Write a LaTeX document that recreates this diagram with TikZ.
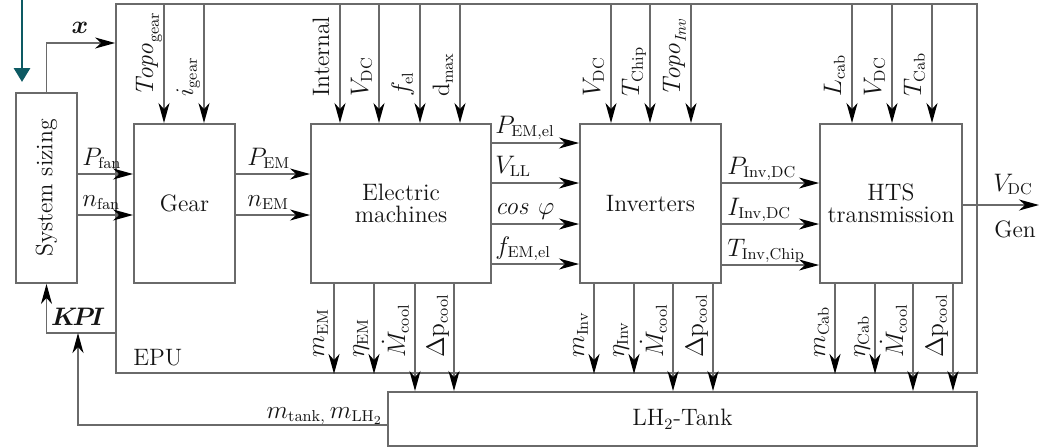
\documentclass[tikz,border=0pt]{standalone}
\usepackage{amsmath}
\usetikzlibrary{arrows.meta,calc}
\definecolor{epuline}{HTML}{6A6A6A}
\definecolor{epuink}{HTML}{141414}
\definecolor{eputeal}{HTML}{0D5A63}

\begin{document}
\begin{tikzpicture}[x=.02cm,y=-.02cm,
  font=\fontsize{13.5}{12.5}\selectfont,text=epuink,
  >={Stealth[length=.4cm,width=.22cm,inset=.12cm,black]},
  sig/.style={->,draw=epuline,line width=1.1pt},
  box/.style={draw=epuline,line width=1.1pt,fill=white,align=center,inner sep=0pt},
  vlab/.style={rotate=90,anchor=base west,inner sep=0pt},
  hlab/.style={anchor=base west,inner sep=0pt},
  cue/.style={-{Triangle[length=.28cm,width=.32cm]},draw=eputeal,line width=1.7pt}]
\path[use as bounding box] (0,0) rectangle (1040,447);

% EPU frame and its blocks
\node[box,minimum width=17.22cm,minimum height=7.38cm] (epu) at (546.5,188.5) {};
\node[anchor=base west,inner sep=0pt] (epulab) at (133,365) {EPU};
\node[box,minimum width=1.22cm,minimum height=3.8cm] (sys) at (46.5,188) {};
\node[rotate=90] (systxt) at (sys) {System sizing};
\node[box,minimum width=2.02cm,minimum height=3.18cm] (gear) at (184.5,203.5) {Gear};
\node[box,minimum width=3.6cm,minimum height=3.18cm] (em) at (401,203.5) {Electric\\machines};
\node[box,minimum width=2.82cm,minimum height=3.18cm] (inv) at (650.5,203.5) {Inverters};
\node[box,minimum width=2.84cm,minimum height=3.18cm] (hts) at (891,203.5) {HTS\\transmission};
\node[box,minimum width=11.78cm,minimum height=1.08cm] (tank) at (682.5,419) {LH$_2$-Tank};

% inputs from the top of the frame
\foreach \x/\t/\b in {164/{$\mathit{Topo}_{\mathrm{gear}}$}/gear,204/{$i_{\mathrm{gear}}$}/gear,
    340/{Internal}/em,379/{$V_{\mathrm{DC}}$}/em,420/{$f_{\mathrm{el}}$}/em,460/{d$_{\mathrm{max}}$}/em,
    611/{$V_{\mathrm{DC}}$}/inv,650/{$T_{\mathrm{Chip}}$}/inv,691/{$\mathit{Topo}_{\mathit{Inv}}$}/inv,
    852/{$L_{\mathrm{cab}}$}/hts,892/{$V_{\mathrm{DC}}$}/hts,932/{$T_{\mathrm{Cab}}$}/hts}
  {\draw[sig] (epu.north -| \x,0) -- (\b.north -| \x,0);
   \node[vlab] (in\x) at (\x-11,97) {\t};}

% signals between the blocks
\foreach \y/\t in {174/{$P_{\mathrm{fan}}$},215/{$n_{\mathrm{fan}}$}}
  {\draw[sig] (sys.east |- 0,\y) -- (gear.west |- 0,\y);
   \node[hlab] (fan\y) at (82,\y-9) {\t};}
\foreach \y/\t in {174/{$P_{\mathrm{EM}}$},215/{$n_{\mathrm{EM}}$}}
  {\draw[sig] (gear.east |- 0,\y) -- (em.west |- 0,\y);
   \node[hlab] (gr\y) at (247,\y-9) {\t};}
\foreach \y/\t in {143/{$P_{\mathrm{EM,el}}$},183/{$V_{\mathrm{LL}}$},
    224/{$\mathit{cos}\ \varphi$},264/{$f_{\mathrm{EM,el}}$}}
  {\draw[sig] (em.east |- 0,\y) -- (inv.west |- 0,\y);
   \node[hlab] (el\y) at (495,\y-10) {\t};}
\foreach \y/\t in {183/{$P_{\mathrm{Inv,DC}}$},224/{$I_{\mathrm{Inv,DC}}$},265/{$T_{\mathrm{Inv,Chip}}$}}
  {\draw[sig] (inv.east |- 0,\y) -- (hts.west |- 0,\y);
   \node[hlab] (dc\y) at (727,\y-9) {\t};}

% outputs to the frame and to the tank
\foreach \x/\t/\b/\e in {334/{$m_{\mathrm{EM}}$}/em/epu.south,374/{$\eta_{\mathrm{EM}}$}/em/epu.south,
    415/{$\dot{M}_{\mathrm{cool}}$}/em/tank.north,454/{$\Delta\mathrm{p}_{\mathrm{cool}}$}/em/tank.north,
    594/{$m_{\mathrm{Inv}}$}/inv/epu.south,634/{$\eta_{\mathrm{Inv}}$}/inv/epu.south,
    673/{$\dot{M}_{\mathrm{cool}}$}/inv/tank.north,713/{$\Delta\mathrm{p}_{\mathrm{cool}}$}/inv/tank.north,
    835/{$m_{\mathrm{Cab}}$}/hts/epu.south,875/{$\eta_{\mathrm{Cab}}$}/hts/epu.south,
    913/{$\dot{M}_{\mathrm{cool}}$}/hts/tank.north,953/{$\Delta\mathrm{p}_{\mathrm{cool}}$}/hts/tank.north}
  {\draw[sig] (\b.south -| \x,0) -- (\e -| \x,0);
   \node[vlab] (out\x) at (\x-10,358) {\t};}

% generator side
\coordinate (gen) at (1039,205);
\draw[sig] (hts.east |- gen) -- (gen);
\node[anchor=base,inner sep=0pt] (vdc) at (1013,191) {$V_{\mathrm{DC}}$};
\node[anchor=base,inner sep=0pt] (genlab) at (1015,237) {Gen};

% loop back to the sizing
\coordinate (xbend) at (45,43);
\draw[sig] (sys.north) |- (epu.west |- xbend);
\node (xlab) at (80,28) {$\boldsymbol{x}$};
\coordinate (kpi) at (45,333);
\draw[sig] (epu.west |- kpi) -| (sys.south);
\node (kpilab) at (78,317) {$\boldsymbol{K\!P\!I}$};
\coordinate (tankout) at (78,425);
\draw[sig] (tank.west |- tankout) -| (kpi -| tankout);
\node[anchor=base east,inner sep=0pt] (tanklab) at (383,418) {$m_{\mathrm{tank},}\,m_{\mathrm{LH}_2}$};

\coordinate (cuetop) at (22,0);
\coordinate (cuetip) at (22,82);
\draw[cue] (cuetop) -- (cuetip);
\end{tikzpicture}
\end{document}
